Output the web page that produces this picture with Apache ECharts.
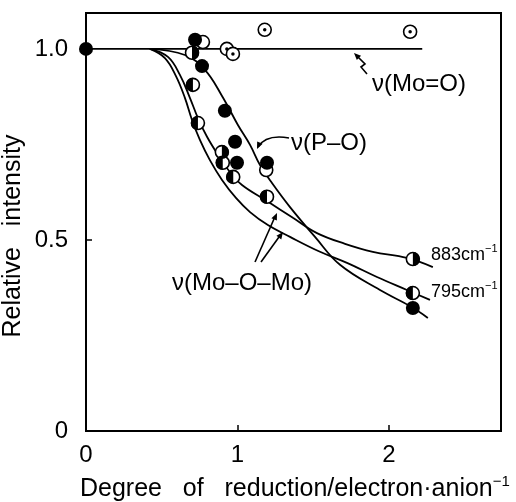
<!DOCTYPE html>
<html>
<head>
<meta charset="utf-8">
<script src="https://cdn.jsdelivr.net/npm/echarts@6/dist/echarts.min.js"></script>
<style>
html, body { margin: 0; padding: 0; background: #fff; }
#chart { width: 516px; height: 502px; }
</style>
</head>
<body>
<div id="chart"></div>
<script>
// tick labels
var xTickLabels = {0: '0', 1: '1', 2: '2'};
var yTickLabels = {0: '0', 0.5: '0.5', 1: '1.0'};

var filledPO = [[0, 1.0], [0.72, 1.024], [0.766, 0.955], [0.917, 0.838], [0.984, 0.757], [0.997, 0.702], [1.195, 0.702], [2.158, 0.322]];
var halfLeft = [[0.706, 0.906], [0.739, 0.806], [0.903, 0.702], [0.972, 0.665], [1.195, 0.613], [2.158, 0.361]];
var halfRight = [[0.70, 0.99], [0.897, 0.730], [2.158, 0.45]];
var openPts = [[0.772, 1.018], [1.19, 0.683]];
var dottedMoO = [[0.93, 1.0], [0.97, 0.987], [1.18, 1.05], [2.14, 1.045]];

// hand drawn curves
var curveMoO = [[0, 1.0], [2.22, 1.0]];
var curvePO = [[0.42, 1.0], [0.653, 0.984], [0.785, 0.945], [0.898, 0.877], [1.003, 0.801], [1.083, 0.749], [1.149, 0.696], [1.228, 0.649], [1.347, 0.586], [1.512, 0.508], [1.677, 0.435], [1.941, 0.369], [2.139, 0.327], [2.257, 0.296]];
var curve883 = [[0.422, 1.0], [0.541, 0.979], [0.62, 0.932], [0.686, 0.872], [0.739, 0.819], [0.799, 0.77], [0.871, 0.723], [0.95, 0.678], [1.03, 0.644], [1.195, 0.602], [1.366, 0.558], [1.525, 0.518], [1.71, 0.49], [1.894, 0.469], [2.119, 0.453], [2.29, 0.429]];
var curve795 = [[0.422, 1.0], [0.521, 0.976], [0.594, 0.929], [0.653, 0.872], [0.70, 0.814], [0.752, 0.762], [0.818, 0.709], [0.898, 0.657], [0.99, 0.61], [1.083, 0.573], [1.201, 0.539], [1.347, 0.508], [1.545, 0.469], [1.723, 0.44], [1.921, 0.403], [2.119, 0.369], [2.271, 0.343]];

var FONT = 'Liberation Sans';
var dom = document.getElementById('chart');
var myChart = echarts.init(dom);

function lineSeries(data, smooth) {
    return {
        type: 'line', data: data, showSymbol: false, smooth: smooth,
        lineStyle: {color: '#000', width: 1.8}, z: 2, silent: true
    };
}

function openSeries(data) {
    return {
        type: 'scatter', data: data, symbol: 'circle', symbolSize: 13,
        itemStyle: {color: '#fff', borderColor: '#000', borderWidth: 1.6, opacity: 1}, z: 3
    };
}

function halfSeries(data, left) {
    return {
        type: 'scatter', data: data,
        symbol: left ? 'path://M10,0A10,10 0 0 0 10,20Z' : 'path://M0,0A10,10 0 0 1 0,20Z',
        symbolSize: [7, 14], symbolOffset: [left ? -3.5 : 3.5, 0],
        itemStyle: {color: '#000', opacity: 1}, z: 4
    };
}

function arrowHead(tx, ty, fx, fy) {
    var dx = tx - fx, dy = ty - fy;
    var n = Math.sqrt(dx * dx + dy * dy);
    var ux = dx / n, uy = dy / n;
    var bx = tx - ux * 7, by = ty - uy * 7;
    return {
        type: 'polygon', z: 10,
        shape: {points: [[tx, ty], [bx - uy * 3, by + ux * 3], [bx + uy * 3, by - ux * 3]]},
        style: {fill: '#000'}
    };
}

// text with a raised "-1"
function supText(x, y, main, size, supSize, lineH) {
    return {
        type: 'text', x: x, y: y, z: 10,
        style: {
            text: '{n|' + main + '}{s|\u22121}', fill: '#000', align: 'left', verticalAlign: 'middle',
            rich: {
                n: {fontSize: size, fontFamily: FONT, lineHeight: lineH, verticalAlign: 'bottom'},
                s: {fontSize: supSize, fontFamily: FONT, lineHeight: supSize, verticalAlign: 'top'}
            }
        }
    };
}

var stroke = {stroke: '#000', lineWidth: 1.6, fill: null};

var option = {
    animation: false,
    backgroundColor: '#fff',
    grid: {left: 86, right: 15, top: 13, bottom: 71, show: true, borderColor: '#000', borderWidth: 2},
    xAxis: {
        type: 'value', min: 0, max: 2.74, interval: 1,
        axisLine: {show: false}, splitLine: {show: false},
        axisTick: {inside: true, length: 6, lineStyle: {color: '#000', width: 1.5}},
        axisLabel: {
            margin: 12, fontSize: 24, color: '#000', fontFamily: FONT,
            formatter: function (v) { return xTickLabels[v] !== undefined ? xTickLabels[v] : ''; }
        }
    },
    yAxis: {
        type: 'value', min: 0, max: 1.094, interval: 0.5,
        axisLine: {show: false}, splitLine: {show: false},
        axisTick: {inside: true, length: 6, lineStyle: {color: '#000', width: 1.5}},
        axisLabel: {
            margin: 18, fontSize: 24, color: '#000', fontFamily: FONT,
            formatter: function (v) { return yTickLabels[v] !== undefined ? yTickLabels[v] : ''; }
        }
    },
    series: [
        lineSeries(curveMoO, false),
        lineSeries(curvePO, 0.4),
        lineSeries(curve883, 0.4),
        lineSeries(curve795, 0.4),
        openSeries(dottedMoO),
        {type: 'scatter', data: dottedMoO, symbol: 'circle', symbolSize: 3.5, itemStyle: {color: '#000', opacity: 1}, z: 4},
        openSeries(openPts),
        openSeries(halfRight),
        halfSeries(halfRight, false),
        openSeries(halfLeft),
        halfSeries(halfLeft, true),
        {type: 'scatter', data: filledPO, symbol: 'circle', symbolSize: 14, itemStyle: {color: '#000', opacity: 1}, z: 5}
    ],
    graphic: [
        // axis titles
        {type: 'text', x: 13, y: 236, rotation: Math.PI / 2, z: 10,
         style: {text: 'Relative   intensity', font: '25px ' + FONT, fill: '#000', align: 'center', verticalAlign: 'middle'}},
        supText(80, 488, 'Degree   of   reduction/electron\u00b7anion', 25, 15, 28),
        // curve labels
        {type: 'text', x: 372, y: 84, z: 10,
         style: {text: '\u03bd(Mo=O)', font: '24px ' + FONT, fill: '#000', align: 'left', verticalAlign: 'middle'}},
        {type: 'text', x: 291, y: 143, z: 10,
         style: {text: '\u03bd(P\u2013O)', font: '24px ' + FONT, fill: '#000', align: 'left', verticalAlign: 'middle'}},
        {type: 'text', x: 172, y: 283, z: 10,
         style: {text: '\u03bd(Mo\u2013O\u2013Mo)', font: '24px ' + FONT, fill: '#000', align: 'left', verticalAlign: 'middle'}},
        supText(431, 254, '883cm', 18, 11, 21),
        supText(431, 291, '795cm', 18, 11, 21),
        // arrows
        {type: 'polyline', z: 10, shape: {points: [[367, 74], [361, 67], [365, 64], [358, 57]]}, style: stroke},
        arrowHead(354, 53, 358, 57),
        {type: 'bezierCurve', z: 10, shape: {x1: 289, y1: 138, cpx1: 266, cpy1: 134, x2: 258, y2: 147}, style: stroke},
        arrowHead(257, 149, 262, 138),
        {type: 'line', z: 10, shape: {x1: 255, y1: 262, x2: 274, y2: 219}, style: stroke},
        arrowHead(277, 213, 255, 262),
        {type: 'line', z: 10, shape: {x1: 261, y1: 262, x2: 279, y2: 237}, style: stroke},
        arrowHead(283, 232, 261, 262)
    ]
};

if (option && typeof option === "object") {
    myChart.setOption(option, true);
}
</script>
</body>
</html>
